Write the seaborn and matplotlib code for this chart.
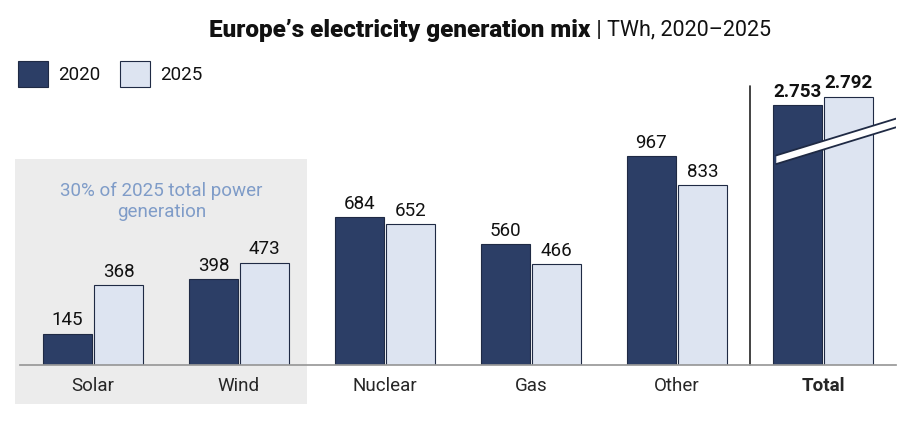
import matplotlib
matplotlib.use("Agg")
import matplotlib.pyplot as plt
import seaborn as sns
import pandas as pd
from matplotlib.patches import Rectangle, Polygon

categories = ["Solar", "Wind", "Nuclear", "Gas", "Other", "Total"]
v2020 = [145, 398, 684, 560, 967, 2753]
v2025 = [368, 473, 652, 466, 833, 2792]
labels2020 = ["145", "398", "684", "560", "967", "2.753"]
labels2025 = ["368", "473", "652", "466", "833", "2.792"]
BREAK = 1550  # axis break removed from the Total bars

dark, light, edge = "#2c3e66", "#dde4f1", "#1f2a44"

rows = []
for c, a, b in zip(categories, v2020, v2025):
    off = BREAK if c == "Total" else 0
    rows.append((c, "2020", a - off))
    rows.append((c, "2025", b - off))
df = pd.DataFrame(rows, columns=["cat", "year", "val"])

sns.set_theme(style="white")
plt.rcParams['font.family'] = ['Roboto', 'DejaVu Sans']
fig = plt.figure(figsize=(9, 4.27), dpi=100)
ax = fig.add_axes([20/900, 61/427, 876/900, 306/427])
sns.barplot(data=df, x="cat", y="val", hue="year", palette=[dark, light],
            width=0.7, gap=0.04, ax=ax, legend=False, saturation=1,
            edgecolor=edge, linewidth=0.8)
ax.set_xlim(-0.5, 5.5)
ax.set_ylim(0, 1416)
ax.set_xlabel(""); ax.set_ylabel("")
ax.set_yticks([])
for s in ["top", "left", "right"]:
    ax.spines[s].set_visible(False)
ax.spines["bottom"].set_color("#999999")
ax.tick_params(axis="x", length=0, labelsize=13.5, pad=8)
for t in ax.get_xticklabels():
    if t.get_text() == "Total":
        t.set_fontweight("bold")

# value labels
for i, c in enumerate(categories):
    off = BREAK if c == "Total" else 0
    bold = "bold" if c == "Total" else "normal"
    for j, (vals, labs) in enumerate([(v2020, labels2020), (v2025, labels2025)]):
        x = i + (-0.175 if j == 0 else 0.175)
        ax.text(x, vals[i] - off + 25, labs[i], ha="center", va="bottom",
                fontsize=13.5, fontweight=bold, color="#111111")

# shaded box
ax.add_patch(Rectangle((-0.535, -180), 2.0, 1134, facecolor="#ececec",
                       edgecolor="none", zorder=0, clip_on=False))
ax.text(0.47, 760, "30% of 2025 total power\ngeneration", ha="center", va="center",
        fontsize=13.5, color="#7f9cc8", linespacing=1.2)

# separator
ax.plot([4.5, 4.5], [0, 1290], color="#222222", lw=1.2, clip_on=False)

# break marks
x0, x1 = 4.68, 5.5
y0, y1 = 930, 1100
th = 40
ax.add_patch(Polygon([(x0, y0), (x1, y1), (x1, y1 + th), (x0, y0 + th)],
                     closed=True, facecolor="white", edgecolor="none", zorder=5))
ax.plot([x0, x1], [y0, y1], color=edge, lw=1.3, zorder=6)
ax.plot([x0, x1], [y0 + th, y1 + th], color=edge, lw=1.3, zorder=6)

# title
fig.text(590/900, 1 - 30/427, "Europe’s electricity generation mix", ha="right",
         va="center", fontsize=17.5, fontweight="heavy", color="#111111")
fig.text(591/900, 1 - 30/427, " | TWh, 2020–2025", ha="left", va="center",
         fontsize=15.5, color="#111111")

# legend
for xs, col, lab in [(18, dark, "2020"), (120, light, "2025")]:
    fig.add_artist(Rectangle((xs/900, 1 - 88/427), 30/900, 26/427,
                             facecolor=col, edgecolor=edge, lw=0.8,
                             transform=fig.transFigure))
    fig.text((xs + 40)/900, 1 - 75/427, lab, ha="left", va="center",
             fontsize=13.5, color="#111111")

fig.savefig("out.png", dpi=100)
